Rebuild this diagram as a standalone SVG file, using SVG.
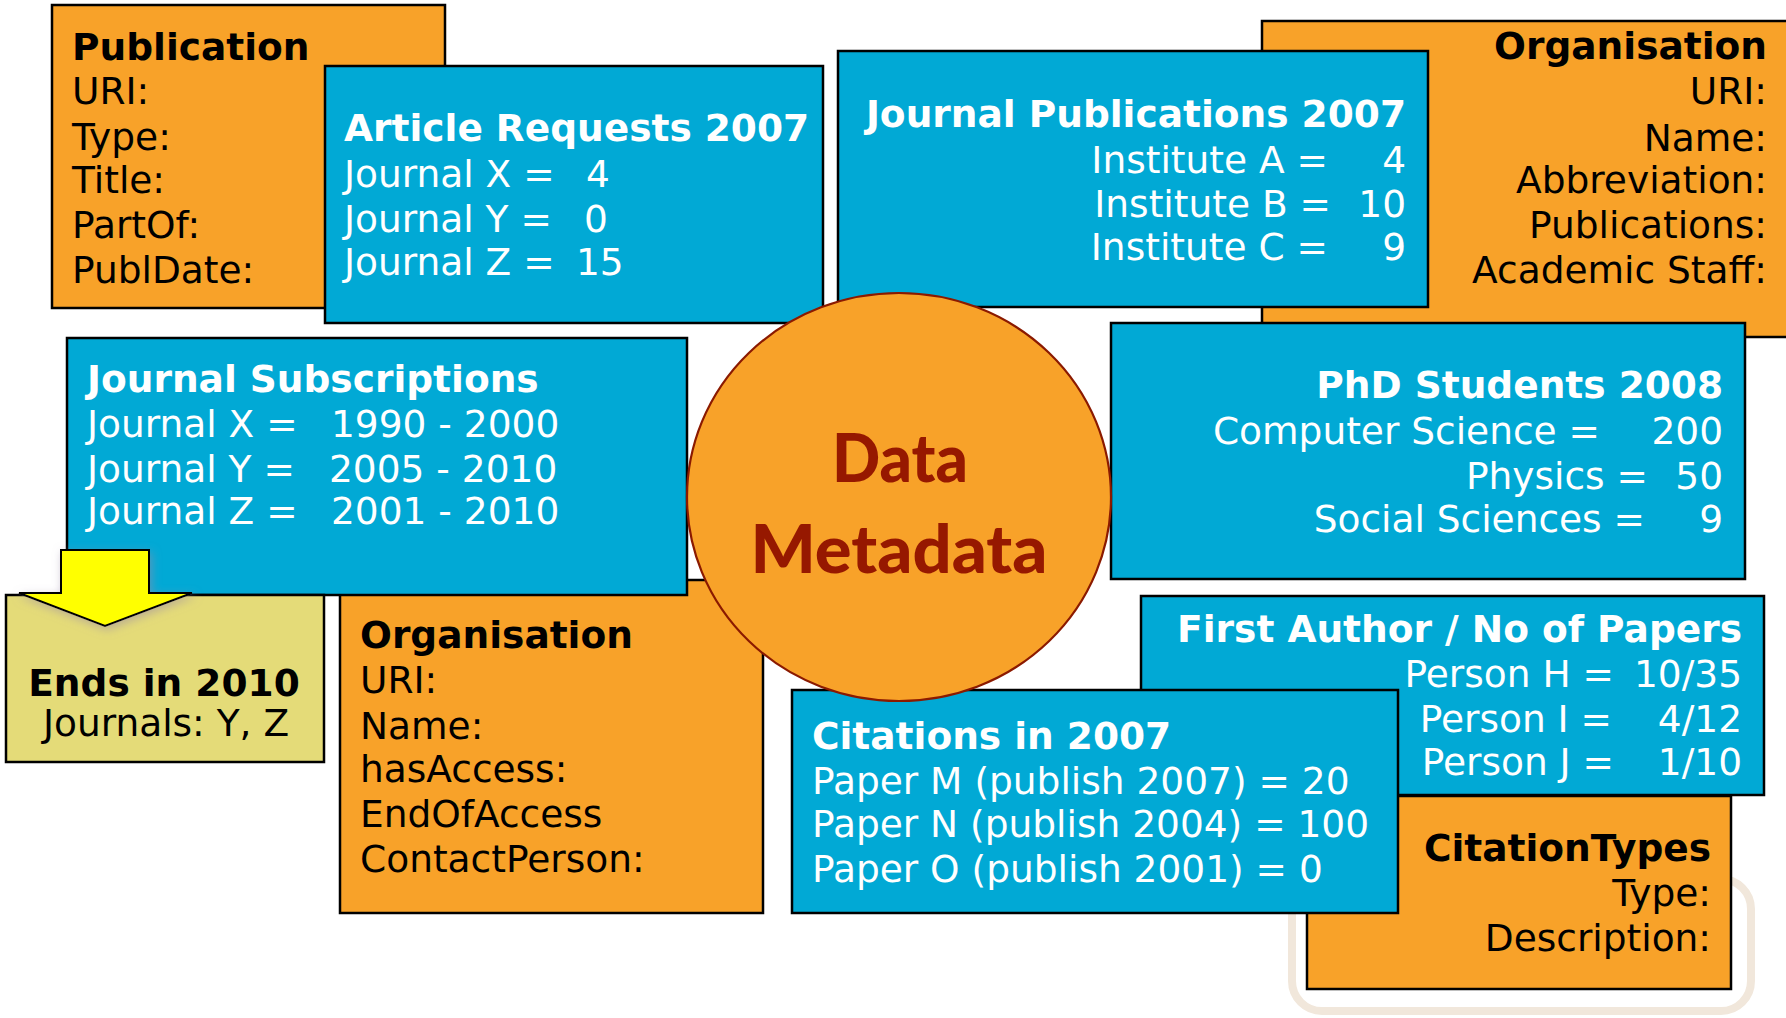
<svg xmlns="http://www.w3.org/2000/svg" width="1786" height="1018" viewBox="0 0 1786 1018">
<defs>
<style>
.box{stroke:#000;stroke-width:2.5}
.or{fill:#F8A229}
.bl{fill:#01A9D5}
.kh{fill:#E4DB78}
text{font-family:"DejaVu Sans",Verdana,sans-serif;font-size:37.5px}
.h{font-weight:bold}
.w{fill:#fff}
.k{fill:#000}
.e{text-anchor:end}
.m{text-anchor:middle}
.big{font-family:Lato,"Liberation Sans",sans-serif;font-weight:900;font-size:67px;fill:#961800;text-anchor:middle}
</style>
<filter id="glow" x="-30%" y="-30%" width="160%" height="160%">
<feGaussianBlur in="SourceAlpha" stdDeviation="5"/>
<feOffset dx="2" dy="3" result="b"/>
<feFlood flood-color="#9a8aa8" flood-opacity="0.55"/>
<feComposite in2="b" operator="in"/>
<feMerge><feMergeNode/><feMergeNode in="SourceGraphic"/></feMerge>
</filter>
</defs>
<rect width="1786" height="1018" fill="#fff"/>

<g id="watermark">
<rect x="1292" y="879" width="459" height="132" rx="30" fill="none" stroke="#F1E7DB" stroke-width="8"/>
</g>

<g id="publication">
<rect class="box or" x="52" y="5" width="393" height="303"/>
<text class="k h" x="72" y="60">Publication</text>
<text class="k" x="72" y="104">URI:</text>
<text class="k" x="72" y="150">Type:</text>
<text class="k" x="72" y="193">Title:</text>
<text class="k" x="72" y="238">PartOf:</text>
<text class="k" x="72" y="283">PublDate:</text>
</g>

<g id="article-requests">
<rect class="box bl" x="325" y="66" width="498" height="257"/>
<text class="w h" x="344" y="141">Article Requests 2007</text>
<text class="w" x="344" y="187">Journal X =</text>
<text class="w" x="586" y="187">4</text>
<text class="w" x="344" y="232">Journal Y =</text>
<text class="w" x="584" y="232">0</text>
<text class="w" x="344" y="275">Journal Z =</text>
<text class="w" x="576" y="275">15</text>
</g>

<g id="organisation-top">
<rect class="box or" x="1262" y="21" width="540" height="316"/>
<text class="k h e" x="1767" y="59">Organisation</text>
<text class="k e" x="1767" y="104">URI:</text>
<text class="k e" x="1767" y="151">Name:</text>
<text class="k e" x="1767" y="193">Abbreviation:</text>
<text class="k e" x="1767" y="238">Publications:</text>
<text class="k e" x="1767" y="283">Academic Staff:</text>
</g>

<g id="journal-publications">
<rect class="box bl" x="838" y="51" width="590" height="256"/>
<text class="w h e" x="1406" y="127">Journal Publications 2007</text>
<text class="w e" x="1328" y="173">Institute A =</text>
<text class="w e" x="1406" y="173">4</text>
<text class="w e" x="1331" y="217">Institute B =</text>
<text class="w e" x="1406" y="217">10</text>
<text class="w e" x="1328" y="260">Institute C =</text>
<text class="w e" x="1406" y="260">9</text>
</g>

<g id="phd-students">
<rect class="box bl" x="1111" y="323" width="634" height="256"/>
<text class="w h e" x="1723" y="398">PhD Students 2008</text>
<text class="w e" x="1600" y="444">Computer Science =</text>
<text class="w e" x="1723" y="444">200</text>
<text class="w e" x="1648" y="489">Physics =</text>
<text class="w e" x="1723" y="489">50</text>
<text class="w e" x="1645" y="532">Social Sciences =</text>
<text class="w e" x="1723" y="532">9</text>
</g>

<g id="organisation-bottom">
<rect class="box or" x="340" y="580" width="423" height="333"/>
<text class="k h" x="360" y="648">Organisation</text>
<text class="k" x="360" y="693">URI:</text>
<text class="k" x="360" y="739">Name:</text>
<text class="k" x="360" y="782">hasAccess:</text>
<text class="k" x="360" y="827">EndOfAccess</text>
<text class="k" x="360" y="872">ContactPerson:</text>
</g>

<g id="journal-subscriptions">
<rect class="box bl" x="67" y="338" width="620" height="257"/>
<text class="w h" x="87" y="392">Journal Subscriptions</text>
<text class="w" x="87" y="437">Journal X =</text>
<text class="w" x="331" y="437">1990 - 2000</text>
<text class="w" x="87" y="482">Journal Y =</text>
<text class="w" x="329" y="482">2005 - 2010</text>
<text class="w" x="87" y="524">Journal Z =</text>
<text class="w" x="331" y="524">2001 - 2010</text>
</g>

<g id="ends-2010">
<rect class="box kh" x="6" y="595" width="318" height="167"/>
<text class="k h m" x="164" y="696">Ends in 2010</text>
<text class="k m" x="166" y="736">Journals: Y, Z</text>
</g>

<g id="connectors">
<path d="M61,550 H149 V593 H192 L105,626 L19,593 H61 Z" fill="#FFFF00" stroke="#000" stroke-width="2" stroke-linejoin="miter" filter="url(#glow)"/>
</g>

<g id="first-author">
<rect class="box bl" x="1141" y="596" width="623" height="199"/>
<text class="w h e" x="1742" y="642">First Author / No of Papers</text>
<text class="w e" x="1614" y="687">Person H =</text>
<text class="w e" x="1742" y="687">10/35</text>
<text class="w e" x="1612" y="732">Person I =</text>
<text class="w e" x="1742" y="732">4/12</text>
<text class="w e" x="1614" y="775">Person J =</text>
<text class="w e" x="1742" y="775">1/10</text>
</g>

<g id="citation-types">
<rect class="box or" x="1307" y="796" width="424" height="193"/>
<text class="k h e" x="1711" y="861">CitationTypes</text>
<text class="k e" x="1711" y="906">Type:</text>
<text class="k e" x="1711" y="951">Description:</text>
</g>

<g id="citations">
<rect class="box bl" x="792" y="690" width="606" height="223"/>
<text class="w h" x="812" y="749">Citations in 2007</text>
<text class="w" x="812" y="794">Paper M (publish 2007) = 20</text>
<text class="w" x="812" y="837">Paper N (publish 2004) = 100</text>
<text class="w" x="812" y="882">Paper O (publish 2001) = 0</text>
</g>

<g id="data-metadata">
<ellipse cx="899" cy="497" rx="212" ry="204" fill="#F8A229" stroke="#8B1A00" stroke-width="2.2"/>
<text class="big" x="900" y="482" textLength="136" lengthAdjust="spacingAndGlyphs">Data</text>
<text class="big" x="899" y="573" textLength="297" lengthAdjust="spacingAndGlyphs">Metadata</text>
</g>
</svg>
